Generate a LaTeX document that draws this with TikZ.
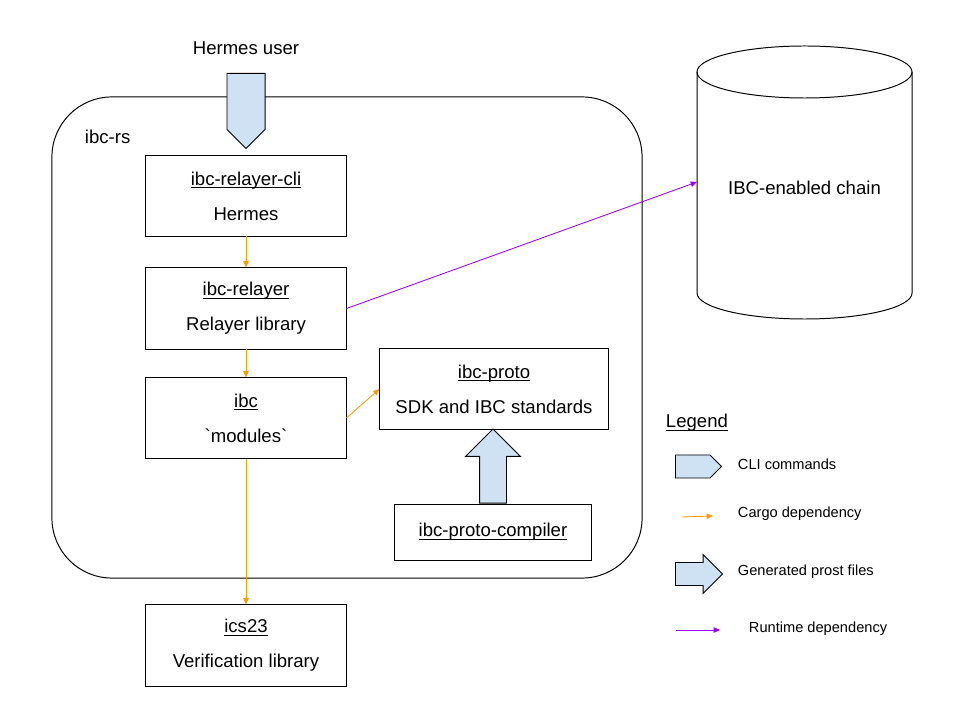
\documentclass[tikz,border=0pt]{standalone}
\usepackage{fontspec}
\setmainfont{Liberation Sans}
\usetikzlibrary{arrows.meta,shapes.arrows}
\definecolor{cargo}{HTML}{FF9900}
\definecolor{runtime}{HTML}{9900FF}
\definecolor{cmdblue}{HTML}{CFE2F3}
\newcommand{\cratename}[1]{\setbox0\hbox{#1}\rlap{\rule[-2.2pt]{\wd0}{0.7pt}}\box0}

\begin{document}
\begin{tikzpicture}
[x=0.025cm, y=-0.025cm, >={Triangle[length=4.5pt,width=3.8pt]},
font=\fontsize{13.2}{16}\selectfont,
crate/.style={draw, line width=0.7pt, minimum width=5cm, minimum height=2cm, align=center},
cargodep/.style={->, draw=cargo, line width=0.6pt},
runtimedep/.style={->, draw=runtime, line width=0.6pt},
fatarrow/.style={single arrow, draw, line width=0.7pt, fill=cmdblue, inner sep=0pt, anchor=tail},
legendtext/.style={anchor=west, font=\fontsize{10.4}{12}\selectfont}]
\useasboundingbox (0,0) rectangle (960,720);

\node[draw, line width=0.7pt, rounded corners=1.5cm, minimum width=14.75cm, minimum height=12.025cm] (ibcrs) at (347,337.5) {};
\node[anchor=west] (ibcrslabel) at (80,137) {ibc-rs};
\node (user) at (246,48) {Hermes user};

\node[crate] (cli) at (246,196) {\cratename{ibc-relayer-cli}\\[9pt]Hermes};
\node[crate, minimum height=2.025cm] (relayer) at (246,308.5) {\cratename{ibc-relayer}\\[9pt]Relayer library};
\node[crate] (ibc) at (246,418) {\cratename{ibc}\\[9pt]\textasciigrave modules\textasciigrave};
\node[crate, minimum width=5.7cm] (proto) at (494,389) {\cratename{ibc-proto}\\[9pt]SDK and IBC standards};
\node[crate, minimum width=4.9cm, minimum height=1.4cm] (compiler) at (493,532) {\cratename{ibc-proto-compiler}};
\node[crate, minimum height=2.025cm] (ics23) at (246,645.5) {\cratename{ics23}\\[9pt]Verification library};

\node[fatarrow, rotate=-90, single arrow head extend=0pt, minimum height=1.875cm, minimum width=0.95cm] (cmd) at (246,73) {};
\node[fatarrow, rotate=90, single arrow head extend=0.35cm, inner ysep=0.325cm, minimum height=1.85cm] (gen) at (compiler.north) {};

\draw[line width=0.7pt] (697,72) -- (697,293) arc[start angle=180, end angle=360, x radius=2.6875cm, y radius=0.65cm] -- (912,72);
\draw[line width=0.7pt] (804.5,72) ellipse [x radius=2.6875cm, y radius=0.65cm];
\node (chain) at (804.5,188) {IBC-enabled chain};
\coordinate (chainside) at (697,182);

\draw[cargodep] (cli.south) -- (relayer.north);
\draw[cargodep] (relayer) -- (ibc);
\draw[cargodep] (ibc.east) -- (proto.west);
\draw[cargodep] (ibc) -- (ics23);
\draw[runtimedep] (relayer.east) -- (chainside);

\node[anchor=west] (legend) at (661,423) {\cratename{Legend}};
\node[fatarrow, single arrow head extend=0pt, minimum height=1.15cm, minimum width=0.575cm] (clikey) at (675,466.5) {};
\node[legendtext] (clitext) at (733,464) {CLI commands};
\coordinate (cargokeya) at (682,517);
\coordinate (cargokeyb) at (713,516);
\draw[cargodep] (cargokeya) -- (cargokeyb);
\node[legendtext] (cargotext) at (733,514) {Cargo dependency};
\node[fatarrow, single arrow head extend=0.2cm, inner ysep=0.275cm, minimum height=1.175cm] (genkey) at (675,574) {};
\node[legendtext] (gentext) at (733,572) {Generated prost files};
\coordinate (runkeya) at (676,630);
\coordinate (runkeyb) at (720,630);
\draw[runtimedep] (runkeya) -- (runkeyb);
\node[legendtext] (runtext) at (744,629) {Runtime dependency};
\end{tikzpicture}
\end{document}
